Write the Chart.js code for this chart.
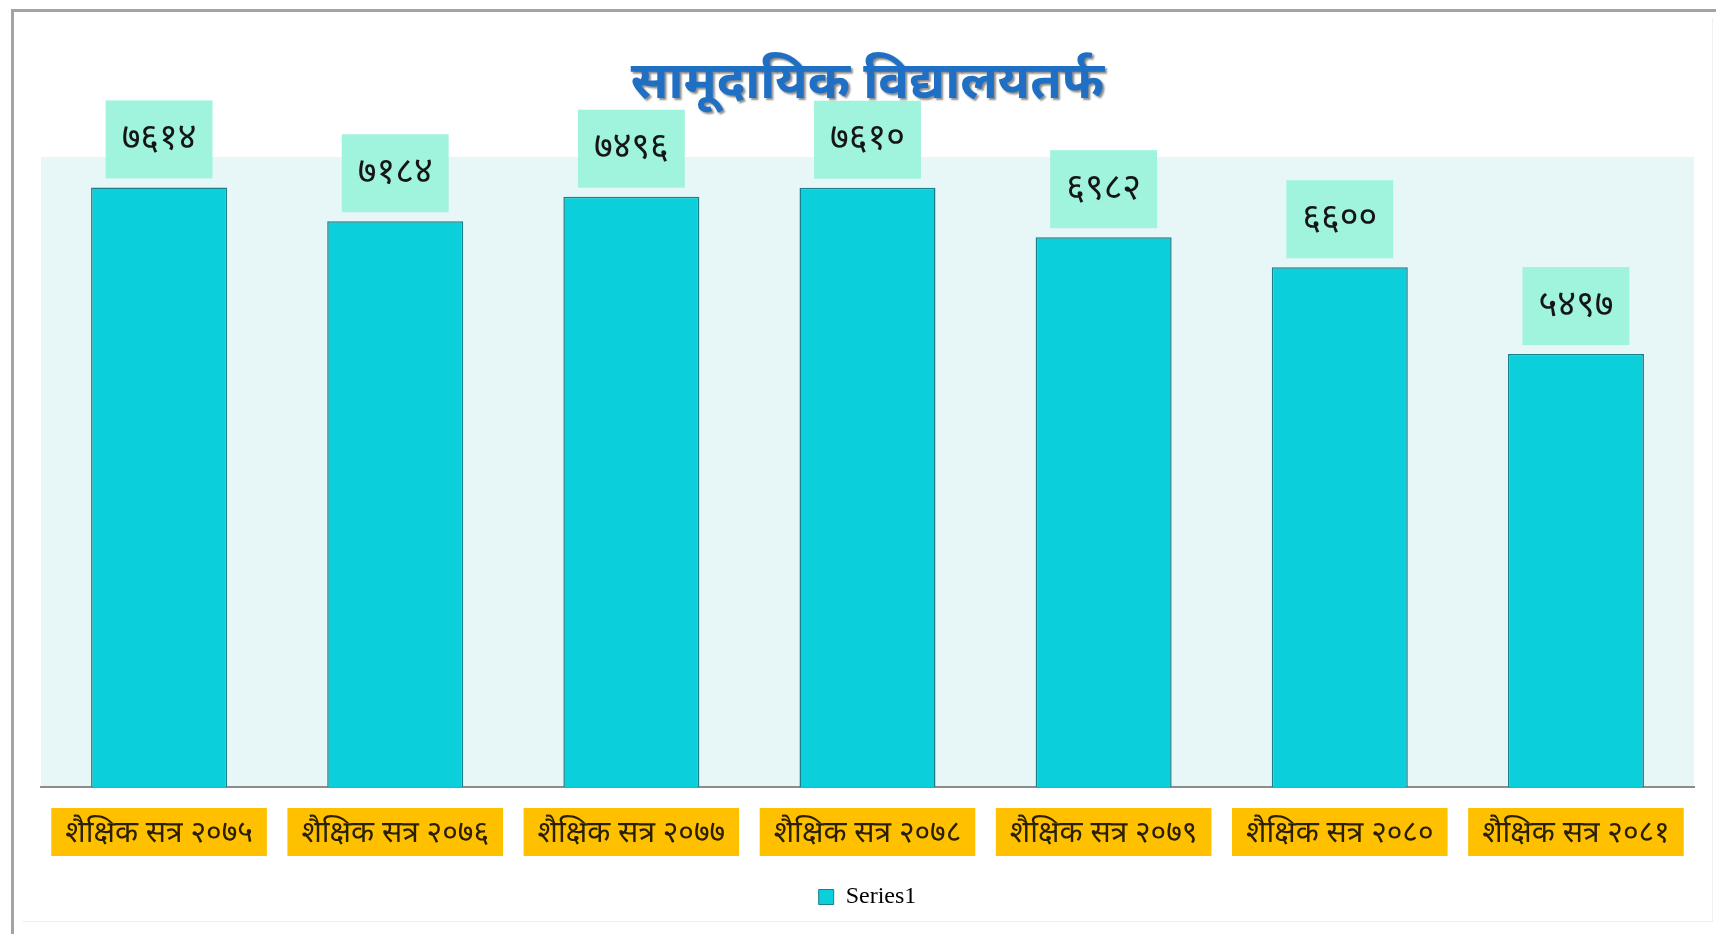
<!DOCTYPE html>
<html>
<head>
<meta charset="utf-8">
<script src="https://cdn.jsdelivr.net/npm/chart.js@4.4.1/dist/chart.umd.min.js"></script>
<style>
  html, body { margin: 0; padding: 0; background: #ffffff; }
  #wrap { position: relative; width: 1716px; height: 934px; overflow: hidden; }
  #frame { position: absolute; left: 11px; top: 9px; width: 1720px; height: 940px;
           border-left: 3px solid #a3a3a3; border-top: 3px solid #a3a3a3; }
  #inner { position: absolute; left: 22px; top: 18px; width: 1690px; height: 903px;
           border-right: 1px solid #f0f0f0; border-bottom: 1px solid #f0f0f0; }
  canvas { position: absolute; left: 0; top: 0; }
</style>
</head>
<body>
<div id="wrap">
  <div id="frame"></div>
  <div id="inner"></div>
  <canvas id="c" width="1716" height="934"></canvas>
</div>
<script>
// ---- data ----
const chartTitle = 'सामूदायिक विद्यालयतर्फ';
const categories = ['शैक्षिक सत्र २०७५', 'शैक्षिक सत्र २०७६', 'शैक्षिक सत्र २०७७', 'शैक्षिक सत्र २०७८', 'शैक्षिक सत्र २०७९', 'शैक्षिक सत्र २०८०', 'शैक्षिक सत्र २०८१'];
const seriesName = 'Series1';
const seriesValues = [7614, 7184, 7496, 7610, 6982, 6600, 5497];
const yMin = 0;
const yMax = 8000;

const devaFont = '"Noto Sans Devanagari", "Noto Sans", "Lohit Devanagari", sans-serif';
const devDigits = ['०','१','२','३','४','५','६','७','८','९'];
function toDeva(n) { return String(n).split('').map(ch => /[0-9]/.test(ch) ? devDigits[+ch] : ch).join(''); }

const bgPlugin = {
  id: 'plotBg',
  beforeDraw(chart) {
    const { ctx, chartArea: a } = chart;
    ctx.save();
    ctx.fillStyle = '#e7f6f7';
    ctx.fillRect(a.left, a.top, a.right - a.left, a.bottom - a.top);
    ctx.restore();
  }
};

const titlePlugin = {
  id: 'customTitle',
  afterDraw(chart) {
    const { ctx, chartArea: a } = chart;
    ctx.save();
    ctx.font = 'bold 51px ' + devaFont;
    ctx.textAlign = 'center';
    ctx.textBaseline = 'middle';
    ctx.shadowColor = 'rgba(0,0,0,0.45)';
    ctx.shadowOffsetX = 2;
    ctx.shadowOffsetY = 2;
    ctx.shadowBlur = 2;
    ctx.fillStyle = '#1f6fc4';
    ctx.fillText(chartTitle, (a.left + a.right) / 2, 88);
    ctx.restore();
  }
};

const labelPlugin = {
  id: 'valueLabels',
  afterDatasetsDraw(chart) {
    const { ctx } = chart;
    const meta = chart.getDatasetMeta(0);
    ctx.save();
    ctx.font = '36px ' + devaFont;
    ctx.textAlign = 'center';
    ctx.textBaseline = 'middle';
    meta.data.forEach((bar, i) => {
      const txt = toDeva(seriesValues[i]);
      const w = ctx.measureText(txt).width + 32;
      const h = 78;
      const bottom = bar.y - 9;
      ctx.fillStyle = '#a0f3dc';
      ctx.fillRect(bar.x - w / 2, bottom - h, w, h);
      ctx.fillStyle = '#151515';
      ctx.fillText(txt, bar.x, bottom - h / 2 + 3);
    });
    ctx.restore();
  }
};

new Chart(document.getElementById('c'), {
  type: 'bar',
  data: {
    labels: categories,
    datasets: [{
      label: seriesName,
      data: seriesValues,
      backgroundColor: '#0bcfda',
      borderColor: '#1a7f8a',
      borderWidth: 1.5,
      categoryPercentage: 0.64,
      barPercentage: 0.9
    }]
  },
  options: {
    responsive: false,
    animation: false,
    devicePixelRatio: 1,
    layout: { padding: { top: 157, left: 41, right: 22, bottom: 15 } },
    plugins: {
      title: { display: false },
      tooltip: { enabled: false },
      legend: {
        position: 'bottom',
        labels: {
          font: { family: '"Liberation Serif", "DejaVu Serif", serif', size: 24 },
          color: '#333',
          boxWidth: 15,
          boxHeight: 15,
          padding: 10,
          generateLabels(chart) {
            return [{ text: seriesName, fillStyle: '#0bcfda', strokeStyle: '#1a7f8a', lineWidth: 1, hidden: false, datasetIndex: 0 }];
          }
        }
      }
    },
    scales: {
      x: {
        grid: { display: false, drawTicks: false },
        border: { display: true, color: '#8c8c8c', width: 2 },
        ticks: {
          font: { family: devaFont, size: 30 },
          color: '#2a2000',
          padding: 31,
          autoSkip: false,
          maxRotation: 0,
          minRotation: 0,
          showLabelBackdrop: true,
          backdropColor: '#ffc000',
          backdropPadding: { left: 14, right: 14, top: 10, bottom: 2 }
        },
        afterFit(scale) { scale.height = 88; }
      },
      y: {
        display: false,
        min: yMin,
        max: yMax
      }
    }
  },
  plugins: [bgPlugin, labelPlugin, titlePlugin]
});
</script>
</body>
</html>
